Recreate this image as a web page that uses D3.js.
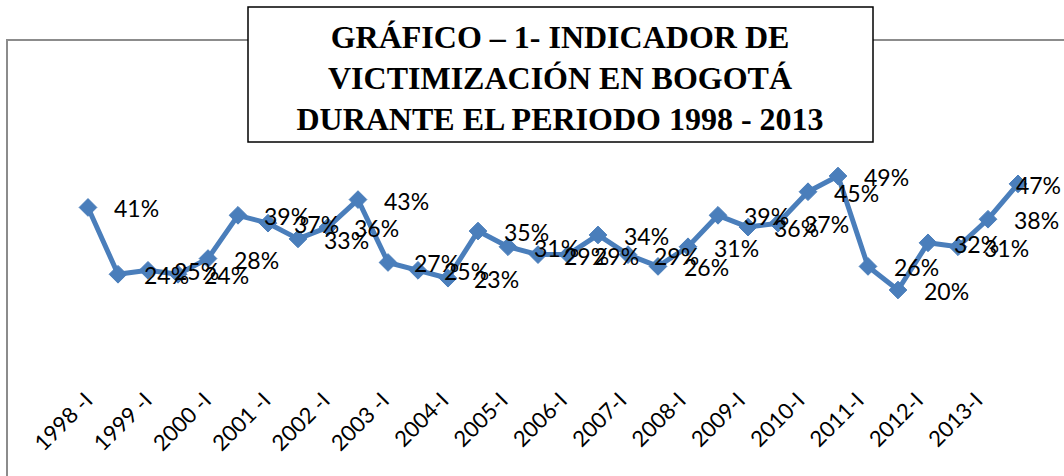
<!DOCTYPE html>
<html>
<head>
<meta charset="utf-8">
<script src="https://cdn.jsdelivr.net/npm/d3@7"></script>
<style>
  html, body { margin: 0; padding: 0; background: #fff; }
  svg { display: block; }
</style>
</head>
<body>
<svg id="chart" width="1064" height="476"></svg>
<script>
const periods = [
  "1998-I","1998-II","1999-I","1999-II","2000-I","2000-II","2001-I","2001-II",
  "2002-I","2002-II","2003-I","2003-II","2004-I","2004-II","2005-I","2005-II",
  "2006-I","2006-II","2007-I","2007-II","2008-I","2008-II","2009-I","2009-II",
  "2010-I","2010-II","2011-I","2011-II","2012-I","2012-II","2013-I","2013-II"
];
const victimization = [41,24,25,24,28,39,37,33,36,43,27,25,23,35,31,29,29,34,29,26,31,39,36,37,45,49,26,20,32,31,38,47];
const tickLabels = ["1998 -I","1999 -I","2000 -I","2001 -I","2002 -I","2003 -I","2004-I","2005-I",
  "2006-I","2007-I","2008-I","2009-I","2010-I","2011-I","2012-I","2013-I"];
const titleLines = ["GRÁFICO – 1- INDICADOR DE","VICTIMIZACIÓN EN BOGOTÁ","DURANTE EL PERIODO 1998 - 2013"];

const W = 1064;
const svg = d3.select("#chart");

// outer chart frame
svg.append("path")
  .attr("d", "M7,476 L7,40 L1064,40")
  .attr("fill", "none").attr("stroke", "#8c8c8c").attr("stroke-width", 2);

const x = d3.scalePoint().domain(periods).range([88, 1018]);
const y = d3.scaleLinear().domain([20, 49]).range([290, 176]);
const xTick = d3.scalePoint().domain(tickLabels).range([94, 984]);

const line = d3.line().x((d, i) => x(periods[i])).y(d => y(d));

svg.append("path")
  .datum(victimization)
  .attr("d", line)
  .attr("fill", "none")
  .attr("stroke", "#4a7ebb")
  .attr("stroke-width", 5)
  .attr("stroke-linejoin", "round");

svg.selectAll("path.marker")
  .data(victimization)
  .join("path")
  .attr("class", "marker")
  .attr("d", d3.symbol().type(d3.symbolDiamond2 || d3.symbolDiamond).size(200))
  .attr("transform", (d, i) => `translate(${x(periods[i])},${y(d)})`)
  .attr("fill", "#4a7ebb")
  .attr("stroke", "#4a7ebb")
  .attr("stroke-width", 1);

// data labels (placed to the right of each point, kept inside the frame)
const dl = svg.selectAll("text.dl")
  .data(victimization)
  .join("text")
  .attr("class", "dl")
  .attr("y", d => y(d) + 10)
  .attr("font-family", "Lato, 'Open Sans', sans-serif")
  .attr("font-size", 23)
  .attr("fill", "#000")
  .text(d => d + "%");
dl.attr("x", function(d, i) {
  const w = this.getComputedTextLength();
  return Math.min(x(periods[i]) + 26, W - 3 - w);
});

// x tick labels (every other category)
svg.selectAll("text.tick")
  .data(tickLabels)
  .join("text")
  .attr("class", "tick")
  .attr("text-anchor", "end")
  .attr("transform", d => `translate(${xTick(d)},${402}) rotate(-45)`)
  .attr("font-family", "Lato, 'Open Sans', sans-serif")
  .attr("font-size", 22)
  .attr("fill", "#000")
  .text(d => d);

// title box
svg.append("rect")
  .attr("x", 248).attr("y", 7).attr("width", 625).attr("height", 135)
  .attr("fill", "#fff").attr("stroke", "#000").attr("stroke-width", 1.5);

svg.selectAll("text.title")
  .data(titleLines)
  .join("text")
  .attr("class", "title")
  .attr("x", 560)
  .attr("y", (d, i) => 48 + i * 41)
  .attr("text-anchor", "middle")
  .attr("font-family", "'Liberation Serif', 'Times New Roman', serif")
  .attr("font-weight", "bold")
  .attr("font-size", 32)
  .attr("fill", "#000")
  .text(d => d);
</script>
</body>
</html>
